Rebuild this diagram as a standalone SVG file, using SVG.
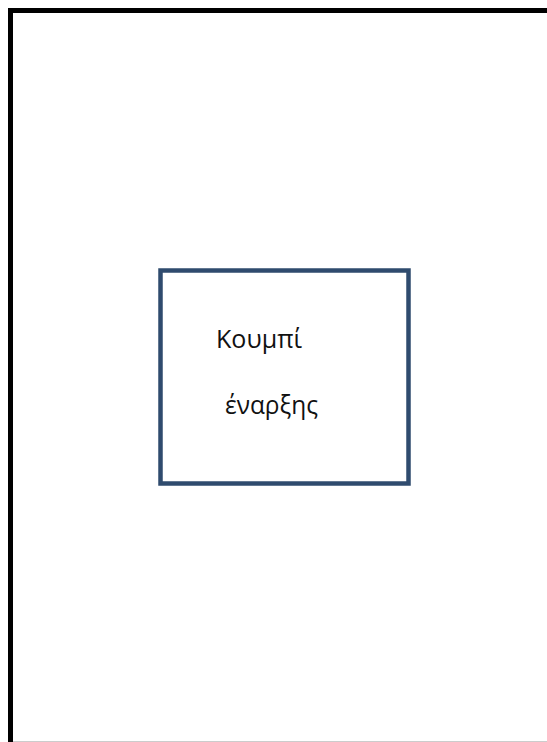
<svg xmlns="http://www.w3.org/2000/svg" width="547" height="742" viewBox="0 0 547 742">
<style>
.frame{fill:none;stroke:#000;stroke-width:5}
.box{fill:#fff;stroke:#2f4b6e;stroke-width:4.5}
.lbl{font-family:"Open Sans","Noto Sans","DejaVu Sans",sans-serif;font-size:25px;fill:#111}
</style>
<rect width="547" height="742" fill="#fff"/>
<g id="frame">
<rect class="frame" x="10.5" y="10.5" width="545" height="733.8"/>
</g>
<g id="start-button">
<rect class="box" x="160.5" y="270.5" width="248" height="213"/>
<text class="lbl" x="216" y="348" textLength="86" lengthAdjust="spacingAndGlyphs">Κουμπί</text>
<text class="lbl" x="225" y="414" textLength="93" lengthAdjust="spacingAndGlyphs">έναρξης</text>
</g>
<g id="connectors"></g>
</svg>
